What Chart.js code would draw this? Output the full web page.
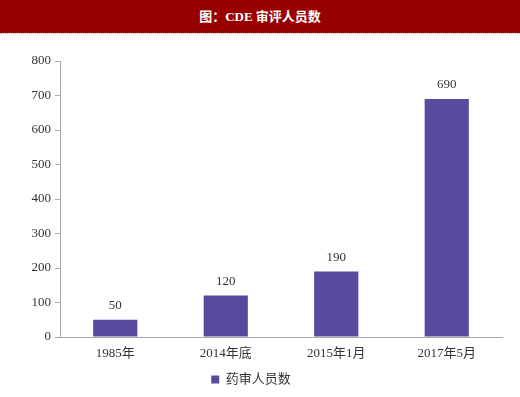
<!DOCTYPE html>
<html>
<head>
<meta charset="utf-8">
<script src="https://cdn.jsdelivr.net/npm/chart.js@4/dist/chart.umd.min.js"></script>
<style>
  html, body { margin: 0; padding: 0; background: #fff; }
  #wrap { position: relative; width: 520px; height: 397px; }
  #title {
    position: absolute; left: 0; top: 0; width: 520px; height: 33px;
    background: #990000; color: #fff; text-align: center;
    font: bold 13px "Liberation Serif", "Noto Sans CJK SC", serif;
    line-height: 33px;
  }
  #rule { position: absolute; left: 0; top: 33px; width: 520px; height: 0; border-top: 1px dotted #9fb4d8; }
  canvas { position: absolute; left: 0; top: 0; }
</style>
</head>
<body>
<div id="wrap">
  <canvas id="chart" width="520" height="397"></canvas>
  <div id="title">图：CDE 审评人员数</div>
  <div id="rule"></div>
</div>
<script>
// ---------- DATA ----------
const categories = ['1985年', '2014年底', '2015年1月', '2017年5月'];
const reviewers = [50, 120, 190, 690];
const seriesName = '药审人员数';
const yTicks = [0, 100, 200, 300, 400, 500, 600, 700, 800];

const FONT = '"Liberation Serif", "Times New Roman", "Noto Sans CJK SC", serif';

// ---------- VALUE LABELS ----------
const valueLabels = {
    id: 'valueLabels',
    afterDatasetsDraw(chart) {
        const ctx = chart.ctx;
        const meta = chart.getDatasetMeta(0);
        ctx.save();
        ctx.font = '13px ' + FONT;
        ctx.fillStyle = '#333';
        ctx.textAlign = 'center';
        ctx.textBaseline = 'middle';
        meta.data.forEach((bar, i) => {
            ctx.fillText(chart.data.datasets[0].data[i], bar.x, bar.y - 14);
        });
        ctx.restore();
    }
};

// ---------- CHART ----------
new Chart(document.getElementById('chart').getContext('2d'), {
    type: 'bar',
    data: {
        labels: categories,
        datasets: [{
            label: seriesName,
            data: reviewers,
            backgroundColor: '#5a4a9e',
            barPercentage: 0.4,
            categoryPercentage: 1
        }]
    },
    options: {
        responsive: false,
        animation: false,
        layout: { padding: { top: 61, left: 0, right: 18, bottom: 1 } },
        plugins: {
            title: { display: false },
            tooltip: { enabled: false },
            legend: {
                position: 'bottom',
                labels: {
                    boxWidth: 8, boxHeight: 8, padding: 6,
                    color: '#333',
                    font: { family: FONT, size: 13 }
                }
            }
        },
        scales: {
            x: {
                grid: { display: false },
                border: { color: '#aaa' },
                ticks: { color: '#333', padding: 1, font: { family: FONT, size: 13 } },
                afterFit(s) { s.height = 30; }
            },
            y: {
                min: 0, max: 800,
                afterBuildTicks(s) { s.ticks = yTicks.map(v => ({ value: v })); },
                grid: { drawOnChartArea: false, drawTicks: true, tickLength: 5, color: '#aaa' },
                border: { color: '#aaa' },
                ticks: { color: '#333', padding: 4, font: { family: FONT, size: 13 } },
                afterFit(s) { s.width = 60; }
            }
        }
    },
    plugins: [valueLabels]
});
</script>
</body>
</html>
